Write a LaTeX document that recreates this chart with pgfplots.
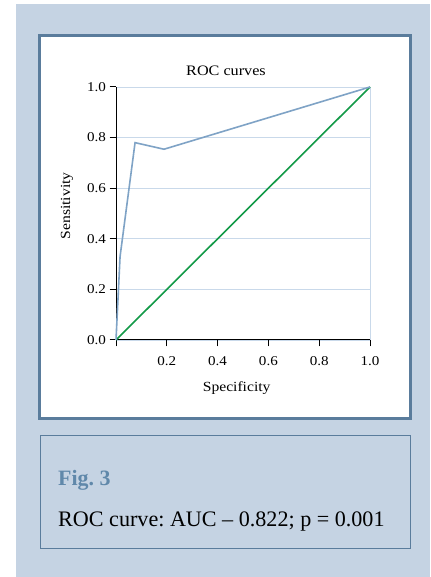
\documentclass[border=0pt]{standalone}
\usepackage{pgfplots}
\pgfplotsset{compat=1.18}
\usepackage{fontspec}
\setmainfont{Liberation Serif}
\newfontfamily\plotfont{Liberation Serif}[FakeStretch=1.12]
\definecolor{bgblue}{RGB}{197,211,227}
\definecolor{frame}{RGB}{90,124,156}
\definecolor{figblue}{RGB}{96,136,170}
\definecolor{curveblue}{RGB}{127,163,198}
\definecolor{gridblue}{RGB}{201,217,234}
\definecolor{rocgreen}{RGB}{19,154,72}
\frenchspacing
\begin{document}
\begin{tikzpicture}[x=1bp,y=1bp]
\fill[white] (0,0) rectangle (430,577);
\fill[bgblue] (16,0) rectangle (430,573);
\filldraw[fill=white, draw=frame, line width=3bp] (39.5,158) rectangle (410,541);
\draw[frame, line width=0.9bp] (40,29) rectangle (410,142);
\node[anchor=base west, inner sep=0pt, text=figblue, font=\fontsize{22}{24}\selectfont\bfseries] at (58,91) {Fig. 3};
\node[anchor=base west, inner sep=0pt, font=\fontsize{22.2}{24}\selectfont] at (58,50) {ROC curve: AUC – 0.822; p = 0.001};
\node[anchor=base, inner sep=0pt, font=\plotfont\fontsize{14.5}{16}\selectfont] at (226,501) {ROC curves};
\begin{axis}[
  at={(116bp,237bp)}, anchor=south west,
  scale only axis, width=254bp, height=253bp,
  xmin=0, xmax=1, ymin=0, ymax=1,
  axis x line*=bottom, axis y line*=left,
  axis line style={black, line width=1bp, -},
  tick style={black, line width=1bp},
  tick align=outside, major tick length=6.5bp,
  xtick={0,0.2,0.4,0.6,0.8,1}, xticklabels={,0.2,0.4,0.6,0.8,1.0},
  ytick={0,0.2,0.4,0.6,0.8,1}, yticklabels={0.0,0.2,0.4,0.6,0.8,1.0},
  ticklabel style={font=\plotfont\fontsize{13.5}{15}\selectfont},
  xticklabel style={yshift=-7bp},
  ymajorgrids, grid style={gridblue, line width=0.8bp},
  xlabel={Specificity}, ylabel={Sensitivity},
  label style={font=\plotfont\fontsize{14}{16}\selectfont},
  xlabel style={at={(axis description cs:0.475,-0.19)}, anchor=center},
  ylabel style={at={(axis description cs:-0.193,0.53)}, anchor=center},
  clip=false,
]
\draw[gridblue, line width=0.8bp] (axis cs:1,0) -- (axis cs:1,1);
\addplot[rocgreen, line width=1.6bp] coordinates {(0,0) (1,1)};
\addplot[curveblue, line width=1.6bp] coordinates {(0,0) (0.016,0.33) (0.075,0.78) (0.189,0.754) (1,1)};
\end{axis}
\end{tikzpicture}
\end{document}
